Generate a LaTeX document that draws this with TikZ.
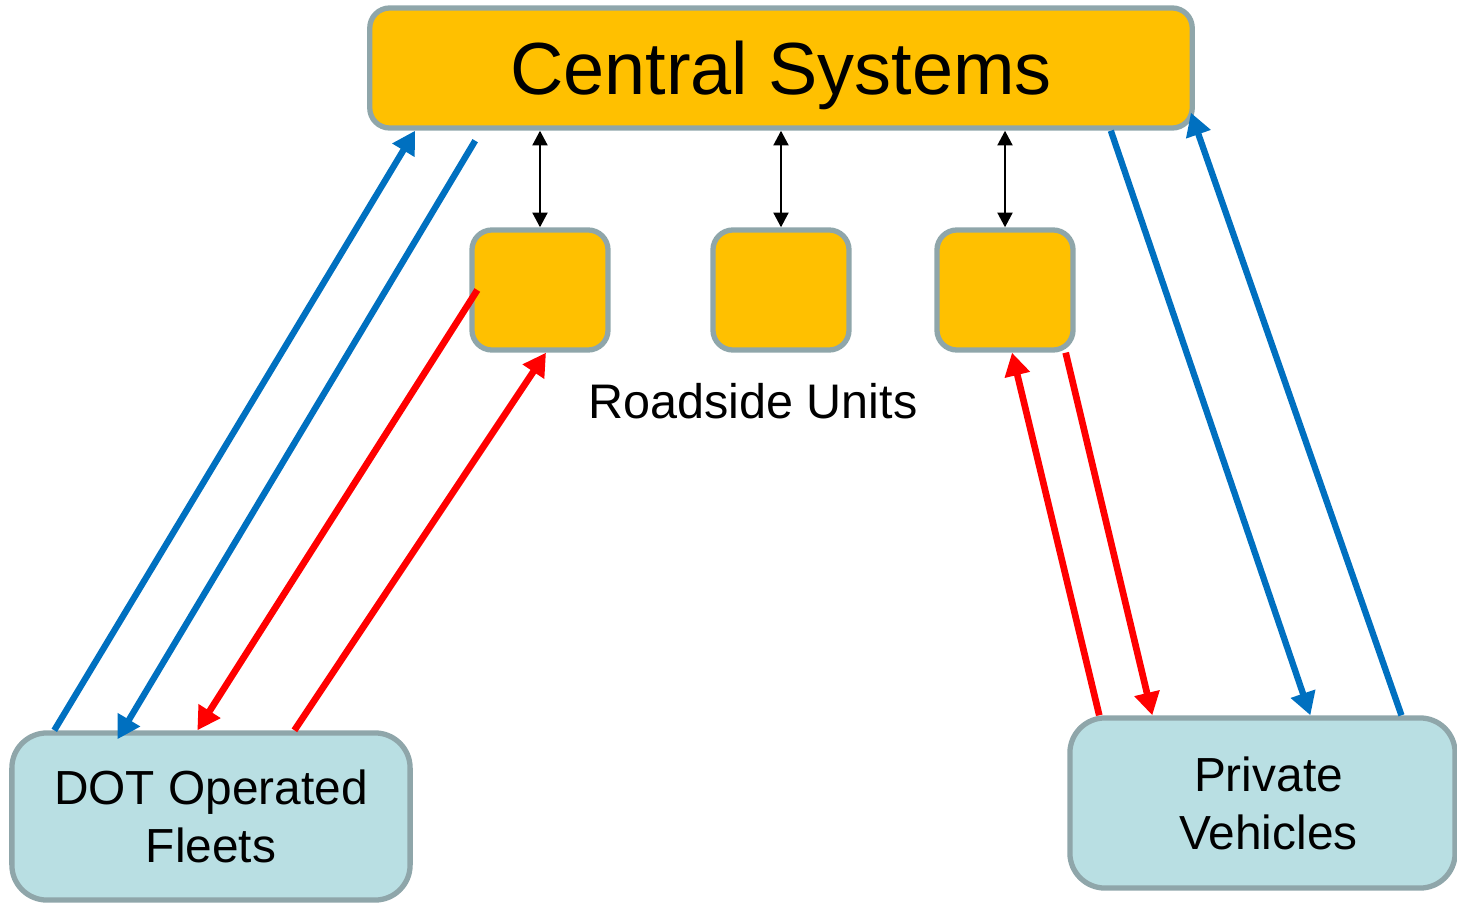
\documentclass[tikz,border=0pt]{standalone}
\usepackage{fontspec}
\setmainfont{Liberation Sans}
\usetikzlibrary{arrows.meta,calc}
\definecolor{boxorange}{HTML}{FFC000}
\definecolor{boxedge}{HTML}{8FA6AA}
\definecolor{fleetblue}{HTML}{B9DFE3}
\definecolor{linkblue}{HTML}{0070C0}
\definecolor{linkred}{HTML}{FF0000}
\tikzset{
  sysbox/.style={draw=boxedge, line width=1.5pt, fill=boxorange, rounded corners=0.2cm,
    inner sep=0pt},
  vehbox/.style={draw=boxedge, line width=1.5pt, fill=fleetblue, rounded corners=0.35cm,
    inner sep=0pt, align=center, font=\fontsize{13.6}{16.5}\selectfont},
  bluelink/.style={draw=linkblue, line width=1.8pt, -{Triangle[length=6.5pt,width=7pt]}},
  redlink/.style={draw=linkred, line width=1.9pt, -{Triangle[length=6.5pt,width=7pt]}},
  rsulink/.style={draw=black, line width=0.8pt, {Triangle[length=4.2pt,width=4.2pt]}-{Triangle[length=4.2pt,width=4.2pt]}}
}
\begin{document}
\begin{tikzpicture}[x=0.01cm, y=-0.01cm]
\useasboundingbox (0,0) rectangle (1457,903);

% central systems and roadside units
\node[sysbox, minimum width=8.22cm, minimum height=1.2cm, text depth=0pt,
  font=\fontsize{21}{25}\selectfont] (cs) at (781,68) {Central Systems};
\node[sysbox, minimum width=1.36cm, minimum height=1.2cm] (r1) at (540,290) {};
\node[sysbox, minimum width=1.36cm, minimum height=1.2cm] (r2) at (781,290) {};
\node[sysbox, minimum width=1.36cm, minimum height=1.2cm] (r3) at (1005,290) {};
\node[anchor=base, font=\fontsize{13.8}{16.5}\selectfont] (rsu) at (753,418) {Roadside Units};

% vehicle groups
\node[vehbox, minimum width=3.98cm, minimum height=1.67cm] (dot) at (211,816.5) {DOT Operated\\Fleets};
\node[vehbox, minimum width=3.85cm, minimum height=1.70cm] (pv) at (1262.5,803) {\hspace*{0.12cm}Private\\\hspace*{0.12cm}Vehicles};

% backhaul links between roadside units and central systems
\draw[rsulink] (r1.north) -- (r1.north |- cs.south);
\draw[rsulink] (r2.north) -- (r2.north |- cs.south);
\draw[rsulink] (r3.north) -- (r3.north |- cs.south);

% DOT fleet links
\draw[bluelink] ([xshift=0.45cm]dot.north west) -- ([xshift=0.48cm]cs.south west);
\draw[bluelink] ([xshift=1.08cm,yshift=-0.10cm]cs.south west) -- ([xshift=1.08cm,yshift=-0.09cm]dot.north west);
\draw[redlink] ([xshift=0.08cm]r1.west) -- ([xshift=1.88cm]dot.north west);
\draw[redlink] ([xshift=2.85cm]dot.north west) -- ([xshift=0.06cm]r1.south);

% private vehicle links
\draw[redlink] ([xshift=0.32cm]pv.north west) -- ([xshift=0.07cm]r3.south);
\draw[redlink] ([xshift=-0.10cm]r3.south east) -- ([xshift=0.85cm]pv.north west);
\draw[bluelink] ([xshift=-0.84cm]cs.south east) -- ([xshift=2.43cm]pv.north west);
\draw[bluelink] ([xshift=3.34cm]pv.north west) -- ([xshift=-0.04cm,yshift=0.18cm]cs.south east);
\end{tikzpicture}
\end{document}
